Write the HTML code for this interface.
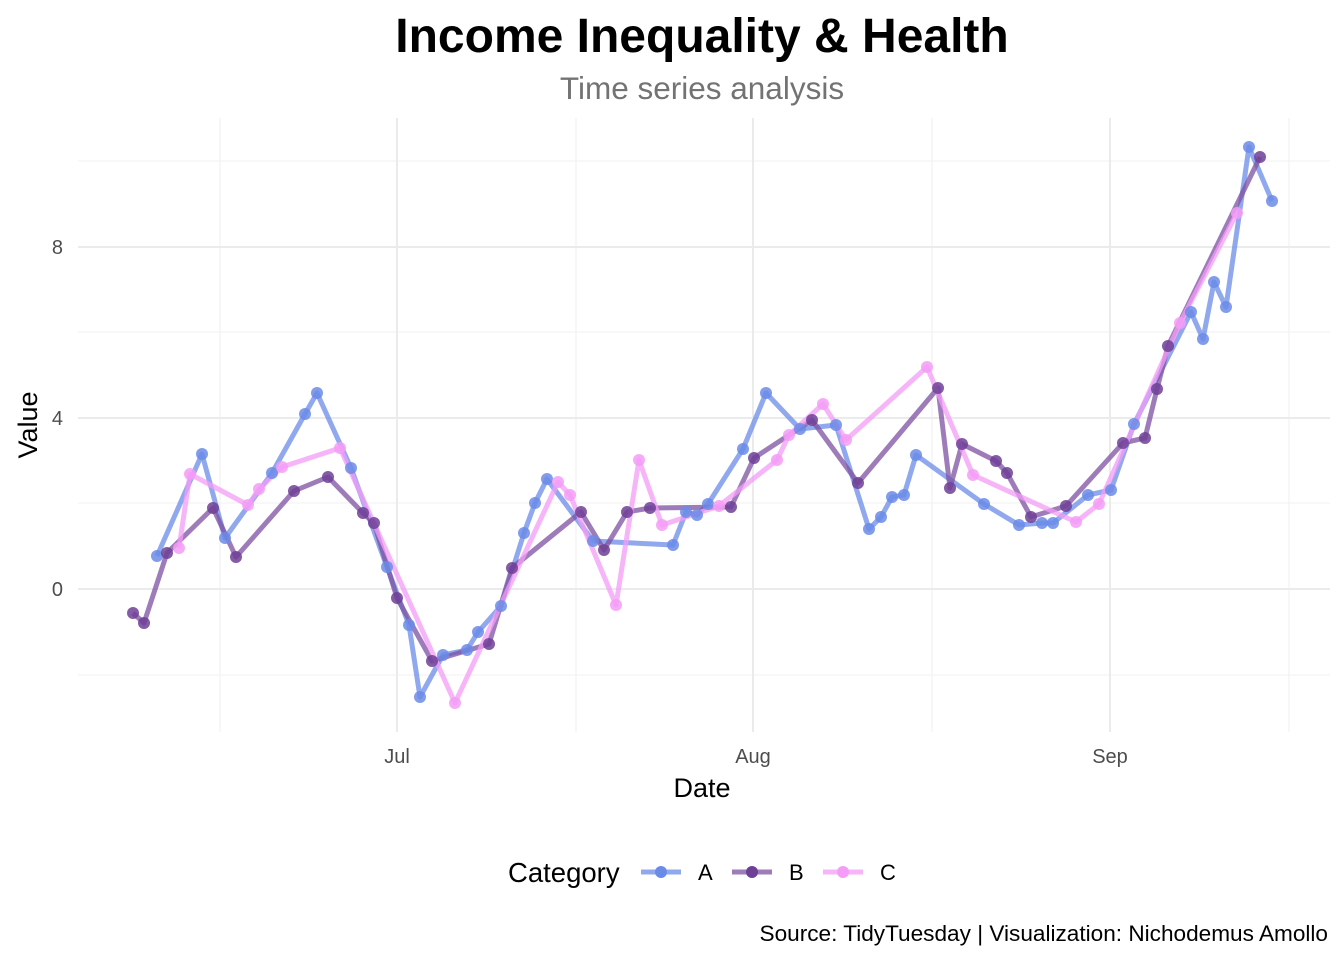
<!DOCTYPE html>
<html><head><meta charset="utf-8"><style>
body{margin:0;background:#fff;}
svg text{font-family:"Liberation Sans",sans-serif;}
</style></head><body>
<svg width="1344" height="960" xmlns="http://www.w3.org/2000/svg">
<rect width="1344" height="960" fill="#fff"/>
<g stroke="#f0f0f0" stroke-width="1.1">
<line x1="78" x2="1330" y1="161" y2="161"/><line x1="78" x2="1330" y1="332" y2="332"/>
<line x1="78" x2="1330" y1="503" y2="503"/><line x1="78" x2="1330" y1="675" y2="675"/>
<line x1="220" x2="220" y1="118" y2="732"/><line x1="576" x2="576" y1="118" y2="732"/>
<line x1="932" x2="932" y1="118" y2="732"/><line x1="1289" x2="1289" y1="118" y2="732"/>
</g>
<g stroke="#ebebeb" stroke-width="2">
<line x1="78" x2="1330" y1="247" y2="247"/><line x1="78" x2="1330" y1="418" y2="418"/>
<line x1="78" x2="1330" y1="589" y2="589"/>
<line x1="397" x2="397" y1="118" y2="732"/><line x1="753" x2="753" y1="118" y2="732"/>
<line x1="1110" x2="1110" y1="118" y2="732"/>
</g>
<g font-size="20" fill="#4d4d4d">
<text x="63" y="254" text-anchor="end">8</text>
<text x="63" y="425" text-anchor="end">4</text>
<text x="63" y="596" text-anchor="end">0</text>
<text x="397" y="763" text-anchor="middle">Jul</text>
<text x="753" y="763" text-anchor="middle">Aug</text>
<text x="1110" y="763" text-anchor="middle">Sep</text>
</g>
<text x="702" y="797" font-size="27" text-anchor="middle">Date</text>
<text transform="translate(37,425) rotate(-90)" font-size="27" text-anchor="middle">Value</text>
<text x="702" y="52" font-size="48" font-weight="bold" text-anchor="middle">Income Inequality &amp; Health</text>
<text x="702" y="99" font-size="31.5" fill="#737373" text-anchor="middle">Time series analysis</text>

<g fill="none" stroke-width="5" stroke-linejoin="round" stroke-opacity="0.75">
<polyline stroke="#6b8be8" points="157,556 202,454 225,538 272,473 305,414 317,393 351,468 387,567 409,625 420,697 443,655 467,650 478,632 501,606 524,533 535,503 547,479 593,541 673,545 686,512 697,515 708,504 743,449 766,393 800,429 836,425 869,529 881,517 892,497 904,495 916,455 984,504 1019,525 1042,523 1053,523 1088,495 1111,490 1134,424 1191,312 1203,339 1214,282 1226,307 1249,147 1272,201"/>
<polyline stroke="#7d50a3" points="133,613 144,623 167,553 213,508 236,557 294,491 328,477 363,513 374,523 397,598 432,661 489,644 512,568 581,512 604,550 627,512 650,508 731,507 754,458 812,420 858,483 938,388 950,488 962,444 996,461 1007,473 1031,517 1066,506 1123,443 1145,438 1157,389 1168,346 1260,157"/>
<polyline stroke="#f49cf7" points="179,548 190,474 248,505 259,489 282,467 340,448 455,703 558,482 570,495 616,605 639,460 662,525 719,506 777,460 789,435 823,404 846,440 927,367 973,475 1076,522 1099,504 1180,323 1237,213"/>
</g>
<g fill-opacity="0.85">
<g fill="#6b8be8">
<circle cx="157" cy="556" r="6"/><circle cx="202" cy="454" r="6"/><circle cx="225" cy="538" r="6"/><circle cx="272" cy="473" r="6"/><circle cx="305" cy="414" r="6"/><circle cx="317" cy="393" r="6"/><circle cx="351" cy="468" r="6"/><circle cx="387" cy="567" r="6"/><circle cx="409" cy="625" r="6"/><circle cx="420" cy="697" r="6"/><circle cx="443" cy="655" r="6"/><circle cx="467" cy="650" r="6"/><circle cx="478" cy="632" r="6"/><circle cx="501" cy="606" r="6"/><circle cx="524" cy="533" r="6"/><circle cx="535" cy="503" r="6"/><circle cx="547" cy="479" r="6"/><circle cx="593" cy="541" r="6"/><circle cx="673" cy="545" r="6"/><circle cx="686" cy="512" r="6"/><circle cx="697" cy="515" r="6"/><circle cx="708" cy="504" r="6"/><circle cx="743" cy="449" r="6"/><circle cx="766" cy="393" r="6"/><circle cx="800" cy="429" r="6"/><circle cx="836" cy="425" r="6"/><circle cx="869" cy="529" r="6"/><circle cx="881" cy="517" r="6"/><circle cx="892" cy="497" r="6"/><circle cx="904" cy="495" r="6"/><circle cx="916" cy="455" r="6"/><circle cx="984" cy="504" r="6"/><circle cx="1019" cy="525" r="6"/><circle cx="1042" cy="523" r="6"/><circle cx="1053" cy="523" r="6"/><circle cx="1088" cy="495" r="6"/><circle cx="1111" cy="490" r="6"/><circle cx="1134" cy="424" r="6"/><circle cx="1191" cy="312" r="6"/><circle cx="1203" cy="339" r="6"/><circle cx="1214" cy="282" r="6"/><circle cx="1226" cy="307" r="6"/><circle cx="1249" cy="147" r="6"/><circle cx="1272" cy="201" r="6"/>
</g>
<g fill="#f49cf7">
<circle cx="179" cy="548" r="6"/><circle cx="190" cy="474" r="6"/><circle cx="248" cy="505" r="6"/><circle cx="259" cy="489" r="6"/><circle cx="282" cy="467" r="6"/><circle cx="340" cy="448" r="6"/><circle cx="455" cy="703" r="6"/><circle cx="558" cy="482" r="6"/><circle cx="570" cy="495" r="6"/><circle cx="616" cy="605" r="6"/><circle cx="639" cy="460" r="6"/><circle cx="662" cy="525" r="6"/><circle cx="719" cy="506" r="6"/><circle cx="777" cy="460" r="6"/><circle cx="789" cy="435" r="6"/><circle cx="823" cy="404" r="6"/><circle cx="846" cy="440" r="6"/><circle cx="927" cy="367" r="6"/><circle cx="973" cy="475" r="6"/><circle cx="1076" cy="522" r="6"/><circle cx="1099" cy="504" r="6"/><circle cx="1180" cy="323" r="6"/><circle cx="1237" cy="213" r="6"/>
</g>
<g fill="#6e3f96">
<circle cx="133" cy="613" r="6"/><circle cx="144" cy="623" r="6"/><circle cx="167" cy="553" r="6"/><circle cx="213" cy="508" r="6"/><circle cx="236" cy="557" r="6"/><circle cx="294" cy="491" r="6"/><circle cx="328" cy="477" r="6"/><circle cx="363" cy="513" r="6"/><circle cx="374" cy="523" r="6"/><circle cx="397" cy="598" r="6"/><circle cx="432" cy="661" r="6"/><circle cx="489" cy="644" r="6"/><circle cx="512" cy="568" r="6"/><circle cx="581" cy="512" r="6"/><circle cx="604" cy="550" r="6"/><circle cx="627" cy="512" r="6"/><circle cx="650" cy="508" r="6"/><circle cx="731" cy="507" r="6"/><circle cx="754" cy="458" r="6"/><circle cx="812" cy="420" r="6"/><circle cx="858" cy="483" r="6"/><circle cx="938" cy="388" r="6"/><circle cx="950" cy="488" r="6"/><circle cx="962" cy="444" r="6"/><circle cx="996" cy="461" r="6"/><circle cx="1007" cy="473" r="6"/><circle cx="1031" cy="517" r="6"/><circle cx="1066" cy="506" r="6"/><circle cx="1123" cy="443" r="6"/><circle cx="1145" cy="438" r="6"/><circle cx="1157" cy="389" r="6"/><circle cx="1168" cy="346" r="6"/><circle cx="1260" cy="157" r="6"/>
</g>
</g>
<text x="508" y="882" font-size="27.5">Category</text>
<g stroke-width="5" stroke-opacity="0.75">
<line x1="641" x2="681" y1="872" y2="872" stroke="#6b8be8"/>
<line x1="732" x2="772" y1="872" y2="872" stroke="#7d50a3"/>
<line x1="823" x2="863" y1="872" y2="872" stroke="#f49cf7"/>
</g>
<circle cx="661" cy="872" r="6" fill="#6b8be8"/>
<circle cx="752" cy="872" r="6" fill="#6e3f96"/>
<circle cx="843" cy="872" r="6" fill="#f49cf7"/>
<g font-size="22"><text x="698" y="880">A</text><text x="789" y="880">B</text><text x="880" y="880">C</text></g>
<text x="1328" y="941" font-size="22.6" text-anchor="end">Source: TidyTuesday | Visualization: Nichodemus Amollo</text>
</svg>
</body></html>
